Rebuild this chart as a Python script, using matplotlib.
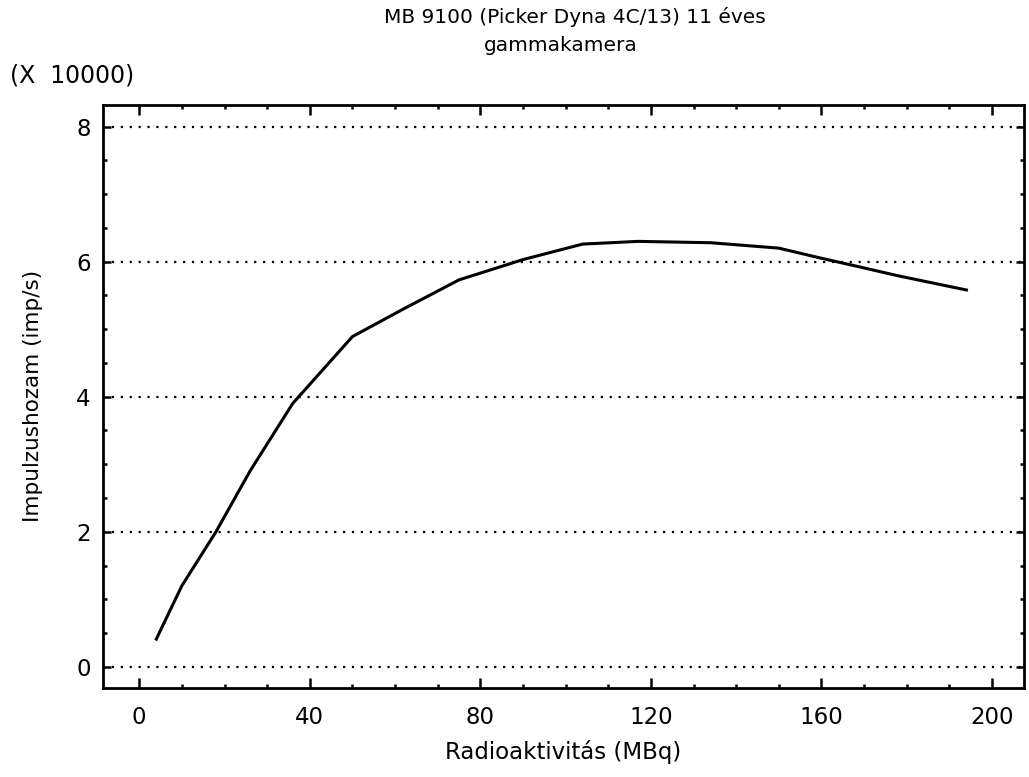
import matplotlib
matplotlib.use("Agg")
import matplotlib.pyplot as plt
from matplotlib.ticker import MultipleLocator

# Beutesi gorbe (Radioaktivitas MBq -> impulzushozam x 10000)
activity = [4, 10, 18, 26, 36, 50, 62, 75, 90, 104, 117, 134, 150, 160, 167, 178, 194]
counts = [0.41, 1.2, 2.0, 2.9, 3.9, 4.89, 5.3, 5.73, 6.03, 6.26, 6.30, 6.28, 6.20,
          6.05, 5.95, 5.79, 5.58]
grid_levels = [0, 2, 4, 6, 8]

plt.rcParams['font.family'] = 'DejaVu Sans'

fig = plt.figure(figsize=(10.29, 7.77), dpi=100)
ax = fig.add_axes([0.1001, 0.1149, 0.895, 0.75])

for g in grid_levels:
    ax.axhline(g, color='black', lw=1.6, ls=(0, (1, 3)), zorder=1)

ax.plot(activity, counts, color='black', lw=2.2, zorder=3)

ax.set_xlim(-8.5, 207.5)
ax.set_ylim(-0.31, 8.32)
ax.xaxis.set_major_locator(MultipleLocator(40))
ax.xaxis.set_minor_locator(MultipleLocator(10))
ax.yaxis.set_major_locator(MultipleLocator(2))
ax.yaxis.set_minor_locator(MultipleLocator(0.5))

ax.tick_params(which='both', direction='in', top=True, right=True, width=1.8,
               labelsize=16.5, colors='black')
ax.tick_params(axis='x', which='major', length=7, pad=13)
ax.tick_params(axis='x', which='minor', length=3)
ax.tick_params(axis='y', which='major', length=6, pad=9)
ax.tick_params(axis='y', which='minor', length=3)
for sp in ax.spines.values():
    sp.set_linewidth(2.0)

ax.set_xlabel('Radioaktivitás (MBq)', fontsize=16.5, labelpad=8)
ax.set_ylabel('Impulzushozam (imp/s)', fontsize=15.5, labelpad=24)
fig.text(0.559, 0.978, 'MB 9100 (Picker Dyna 4C/13) 11 éves', fontsize=14.5,
         ha='center', va='center')
fig.text(0.545, 0.942, 'gammakamera', fontsize=14.5, ha='center', va='center')
fig.text(0.01, 0.903, '(X  10000)', fontsize=17, ha='left', va='center')

fig.savefig('out.png', dpi=100)
